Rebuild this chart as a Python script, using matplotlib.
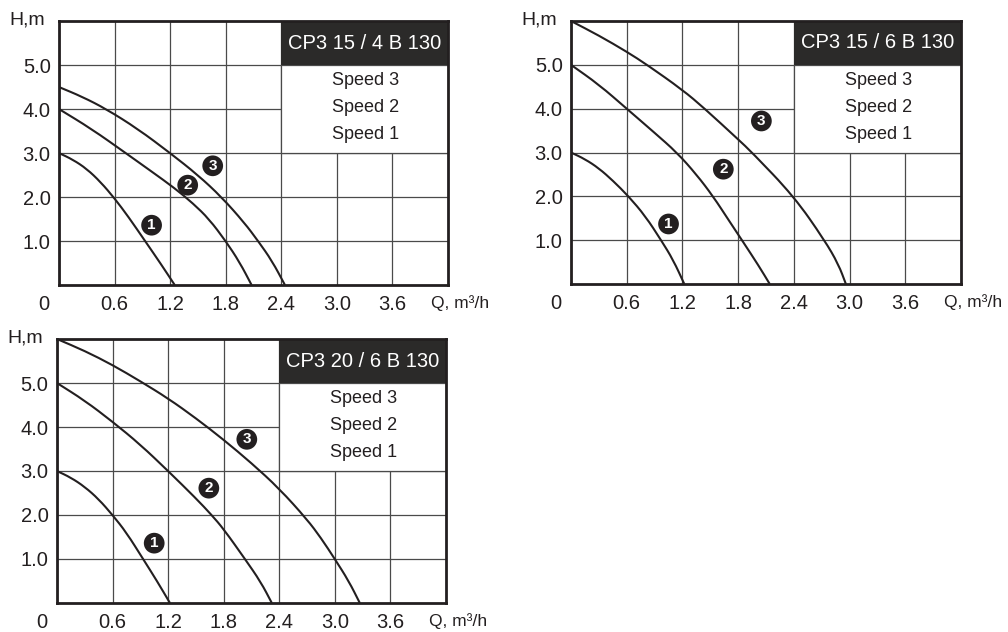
import matplotlib
matplotlib.use("Agg")
import matplotlib.pyplot as plt
from matplotlib.patches import Rectangle, PathPatch
from matplotlib.path import Path
from matplotlib.transforms import ScaledTranslation


plt.rcParams['font.family'] = ['Liberation Sans', 'DejaVu Sans']

ink = '#231f20'
grid_col = '#4a4a4a'


# Data  Q [m3/h], H [m]
# CP3 15 / 4 B 130
q_154_s1 = [0, 0.15, 0.3, 0.45, 0.6, 0.75, 0.93, 1.1, 1.25]
h_154_s1 = [3.0, 2.85, 2.64, 2.34, 1.97, 1.55, 1.0, 0.48, 0]
q_154_s2 = [0, 0.35, 0.72, 1.0, 1.25, 1.45, 1.62, 1.8, 1.95, 2.08]
h_154_s2 = [4.0, 3.55, 3.0, 2.58, 2.2, 1.85, 1.5, 1.0, 0.52, 0]
q_154_s3 = [0, 0.25, 0.51, 0.85, 1.2, 1.5, 1.755, 2.0, 2.15, 2.3, 2.44]
h_154_s3 = [4.5, 4.28, 4.0, 3.55, 3.0, 2.5, 2.0, 1.42, 1.0, 0.55, 0]

# CP3 15 / 6 B 130
q_156_s1 = [0, 0.15, 0.3, 0.45, 0.62, 0.8, 0.97, 1.1, 1.22]
h_156_s1 = [3.0, 2.85, 2.64, 2.36, 2.0, 1.55, 1.0, 0.55, 0]
q_156_s2 = [0, 0.3, 0.6, 0.9, 1.14, 1.35, 1.53, 1.7, 1.85, 2.02, 2.14]
h_156_s2 = [5.0, 4.55, 4.0, 3.45, 3.0, 2.5, 2.0, 1.45, 0.97, 0.42, 0]
q_156_s3 = [0, 0.3, 0.6, 0.82, 1.2, 1.43, 1.8, 1.95, 2.4, 2.73, 2.88, 2.96]
h_156_s3 = [6.0, 5.67, 5.3, 5.0, 4.43, 4.02, 3.3, 3.0, 2.0, 1.0, 0.45, 0]

# CP3 20 / 6 B 130
q_206_s1 = [0, 0.15, 0.3, 0.45, 0.6, 0.75, 0.93, 1.08, 1.22]
h_206_s1 = [3.0, 2.85, 2.64, 2.36, 2.0, 1.6, 1.0, 0.5, 0]
q_206_s2 = [0, 0.3, 0.6, 0.9, 1.2, 1.5, 1.67, 1.8, 2.03, 2.2, 2.32]
h_206_s2 = [5.0, 4.6, 4.12, 3.6, 3.0, 2.38, 2.0, 1.68, 1.0, 0.48, 0]
q_206_s3 = [0, 0.3, 0.6, 0.9, 1.2, 1.5, 1.8, 2.1, 2.4, 2.7, 2.85, 3.0, 3.15, 3.27]
h_206_s3 = [6.0, 5.73, 5.41, 5.04, 4.65, 4.2, 3.71, 3.18, 2.6, 1.9, 1.48, 1.0, 0.5, 0]

# curve number badges (Q, H)
badge_154_q = [1.0, 1.39, 1.66]
badge_154_h = [1.36, 2.27, 2.71]
badge_156_q = [1.05, 1.64, 2.05]
badge_156_h = [1.37, 2.62, 3.72]
badge_206_q = [1.05, 1.64, 2.05]
badge_206_h = [1.36, 2.61, 3.72]

x_ticks = [0, 0.6, 1.2, 1.8, 2.4, 3.0, 3.6]
x_labels = ['0', '0.6', '1.2', '1.8', '2.4', '3.0', '3.6']
y_ticks = [1, 2, 3, 4, 5]
y_labels = ['1.0', '2.0', '3.0', '4.0', '5.0']
speeds = ['Speed 3', 'Speed 2', 'Speed 1']


def smooth_curve(ax, q, h):
    # quadratic bezier through midpoints, so the read points give a smooth line
    pts = list(zip(q, h))
    verts = [pts[0], ((pts[0][0] + pts[1][0]) / 2, (pts[0][1] + pts[1][1]) / 2)]
    codes = [Path.MOVETO, Path.LINETO]
    for i in range(1, len(pts) - 1):
        mid = ((pts[i][0] + pts[i + 1][0]) / 2, (pts[i][1] + pts[i + 1][1]) / 2)
        verts += [pts[i], mid]
        codes += [Path.CURVE3, Path.CURVE3]
    verts.append(pts[-1])
    codes.append(Path.LINETO)
    ax.add_patch(PathPatch(Path(verts, codes), fill=False, ec=ink, lw=1.5,
                           capstyle='butt', joinstyle='round', zorder=3))


def draw_panel(ax, title, curves, badge_q, badge_h):
    ax.set_xlim(0, 4.2)
    ax.set_ylim(0, 6)
    ax.set_xticks(x_ticks)
    ax.set_xticklabels(x_labels)
    ax.set_yticks(y_ticks)
    ax.set_yticklabels(y_labels)
    ax.tick_params(length=0, labelsize=14.5, colors=ink, pad=6)
    ax.tick_params(axis='x', pad=7)
    ax.set_axisbelow(True)
    ax.grid(True, color=grid_col, lw=0.9)
    for s in ax.spines.values():
        s.set_linewidth(2.0)
        s.set_color(ink)

    # move the "0" label into the corner
    lab0 = ax.get_xticklabels()[0]
    lab0.set_transform(lab0.get_transform() + ScaledTranslation(-0.15, 0, ax.figure.dpi_scale_trans))

    # legend block
    ax.add_patch(Rectangle((2.4, 3.0), 1.8, 2.0, fc='white', ec=grid_col, lw=0.9, zorder=1))
    ax.add_patch(Rectangle((2.4, 5.0), 1.8, 1.0, fc='#2b2a29', ec='none', zorder=1))
    ax.text(3.3, 5.5, title, color='white', fontsize=14.5, ha='center', va='center')
    for i, s in enumerate(speeds):
        ax.text(3.31, 4.64 - i * 0.61, s, fontsize=13, color=ink, ha='center', va='center')

    for q, h in curves:
        smooth_curve(ax, q, h)

    for i in range(3):
        ax.text(badge_q[i], badge_h[i], str(i + 1), color='white', fontsize=11, fontweight='bold',
                ha='center', va='center', zorder=4,
                bbox=dict(boxstyle='circle,pad=0.22', fc=ink, ec='none'))

    ax.text(-0.082, 1.005, 'H,m', transform=ax.transAxes, fontsize=14, color=ink,
            ha='center', va='center')
    ax.text(1.032, -0.068, 'Q, m³/h', transform=ax.transAxes, fontsize=12.5, color=ink,
            ha='center', va='center')


fig = plt.figure(figsize=(10.08, 6.32), dpi=100)

ax1 = fig.add_axes([0.0585, 0.549, 0.3859, 0.4177])
ax2 = fig.add_axes([0.5665, 0.5506, 0.3869, 0.4161])
ax3 = fig.add_axes([0.0565, 0.0459, 0.3859, 0.4177])

draw_panel(ax1, 'CP3 15 / 4 B 130',
           [(q_154_s1, h_154_s1), (q_154_s2, h_154_s2), (q_154_s3, h_154_s3)],
           badge_154_q, badge_154_h)
draw_panel(ax2, 'CP3 15 / 6 B 130',
           [(q_156_s1, h_156_s1), (q_156_s2, h_156_s2), (q_156_s3, h_156_s3)],
           badge_156_q, badge_156_h)
draw_panel(ax3, 'CP3 20 / 6 B 130',
           [(q_206_s1, h_206_s1), (q_206_s2, h_206_s2), (q_206_s3, h_206_s3)],
           badge_206_q, badge_206_h)

plt.savefig("out.png", dpi=100)
